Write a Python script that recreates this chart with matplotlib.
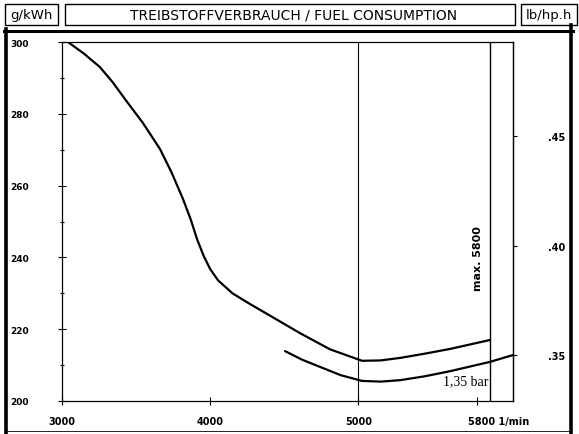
import matplotlib
matplotlib.use("Agg")
import matplotlib.pyplot as plt
from matplotlib.patches import Rectangle
from matplotlib.lines import Line2D
from matplotlib.transforms import ScaledTranslation

# ---- data ----
upper_rpm = [3040, 3150, 3256, 3340, 3425, 3545, 3661, 3740, 3816, 3870, 3911, 3955, 3999, 4053,
             4150, 4269, 4440, 4606, 4808, 5024, 5150, 5281, 5450, 5618, 5888]
upper_g = [300.0, 296.7, 293.0, 288.9, 284.1, 277.5, 270.2, 263.6, 256.3, 250.4, 245.1, 240.5,
           236.8, 233.6, 230.0, 227.0, 222.9, 218.9, 214.4, 211.2, 211.3, 212.0, 213.2, 214.5, 217.0]
lower_rpm = [4505, 4620, 4741, 4880, 5024, 5150, 5281, 5450, 5618, 5888, 6043]
lower_g = [213.9, 211.5, 209.5, 207.2, 205.6, 205.4, 205.8, 206.9, 208.3, 210.9, 212.8]
x_ticks = [3000, 4000, 5000, 5800]
x_labels = ["3000", "4000", "5000", "5800 1/min"]
y_ticks = [200, 220, 240, 260, 280, 300]
y_labels = ["200", "220", "240", "260", "280", "300"]
rt_ticks = [0.35, 0.40, 0.45]
rt_labels = [".35", ".40", ".45"]
grid_rpm = 5000
max_rpm = 5888
max_label = "max. 5800"
bar_label = "1,35 bar"
G_PER_LB = 608.28

W, H = 579, 435
fig = plt.figure(figsize=(W / 100, H / 100), dpi=100)

def fx(px):
    return px / W

def fy(py):
    return 1 - py / H

ax = fig.add_axes([fx(62), fy(402), fx(513) - fx(62), fy(43) - fy(402)])
ax.plot(upper_rpm, upper_g, color="black", lw=1.6, solid_capstyle="round", solid_joinstyle="round")
ax.plot(lower_rpm, lower_g, color="black", lw=1.6, solid_capstyle="round", solid_joinstyle="round")
ax.axvline(grid_rpm, color="black", lw=0.8)
ax.axvline(max_rpm, color="black", lw=1.0)
ax.set_xlim(3000, 6043)
ax.set_ylim(200, 300)
for s in ax.spines.values():
    s.set_linewidth(0.9)

ax.set_xticks(x_ticks)
ax.set_xticklabels(x_labels, fontsize=7, fontweight="heavy")
ax.set_yticks(y_ticks)
ax.set_yticklabels(y_labels, fontsize=6.5, fontweight="heavy")
ax.set_yticks([210, 230, 250, 270, 290], minor=True)
ax.tick_params(axis="y", which="major", direction="inout", length=6, width=0.8, pad=21)
ax.tick_params(axis="y", which="minor", direction="inout", length=3, width=0.8)
ax.tick_params(axis="x", which="major", direction="inout", length=6, width=0.8, pad=8)
last = ax.get_xticklabels()[-1]
last.set_horizontalalignment("left")
last.set_transform(last.get_transform() + ScaledTranslation(-9 / 100, 0, fig.dpi_scale_trans))

sec = ax.secondary_yaxis("right", functions=(lambda g: g / G_PER_LB, lambda lb: lb * G_PER_LB))
sec.set_yticks(rt_ticks)
sec.set_yticklabels(rt_labels, fontsize=7, fontweight="heavy")
sec.tick_params(direction="out", length=3, width=0.8, pad=22)
sec.spines["right"].set_linewidth(0.9)

ax.text(max_rpm - 45, 240, max_label, rotation=90, ha="right", va="center",
        fontsize=8, fontweight="heavy", family="DejaVu Sans")
ax.text(max_rpm - 8, 205.6, bar_label, ha="right", va="center", fontsize=10,
        family="Liberation Serif")

# ---- header and frame ----
def box(x0, y0, x1, y1, lw=1.0):
    fig.patches.append(Rectangle((fx(x0), fy(y1)), fx(x1) - fx(x0), fy(y0) - fy(y1),
                                 transform=fig.transFigure, fill=False, lw=lw, ec="black"))

box(5, 5, 58, 26)
box(65, 5, 515, 26)
box(521, 5, 577, 26)
fig.text(fx(31), fy(15.5), "g/kWh", ha="center", va="center", fontsize=9.5, family="DejaVu Sans")
fig.text(fx(294), fy(15.5), "TREIBSTOFFVERBRAUCH / FUEL CONSUMPTION", ha="center", va="center",
         fontsize=10, family="DejaVu Sans")
fig.text(fx(549), fy(15.5), "lb/hp.h", ha="center", va="center", fontsize=9.5, family="DejaVu Sans")

def line(x0, y0, x1, y1, lw):
    fig.lines.append(Line2D([fx(x0), fx(x1)], [fy(y0), fy(y1)], transform=fig.transFigure,
                            color="black", lw=lw))

line(4, 31.5, 573, 31.5, 2.2)
line(6, 30, 6, 435, 2.6)
line(571, 26, 571, 435, 2.6)
line(6, 432, 571, 432, 0.6)

fig.savefig("out.png", dpi=100)
